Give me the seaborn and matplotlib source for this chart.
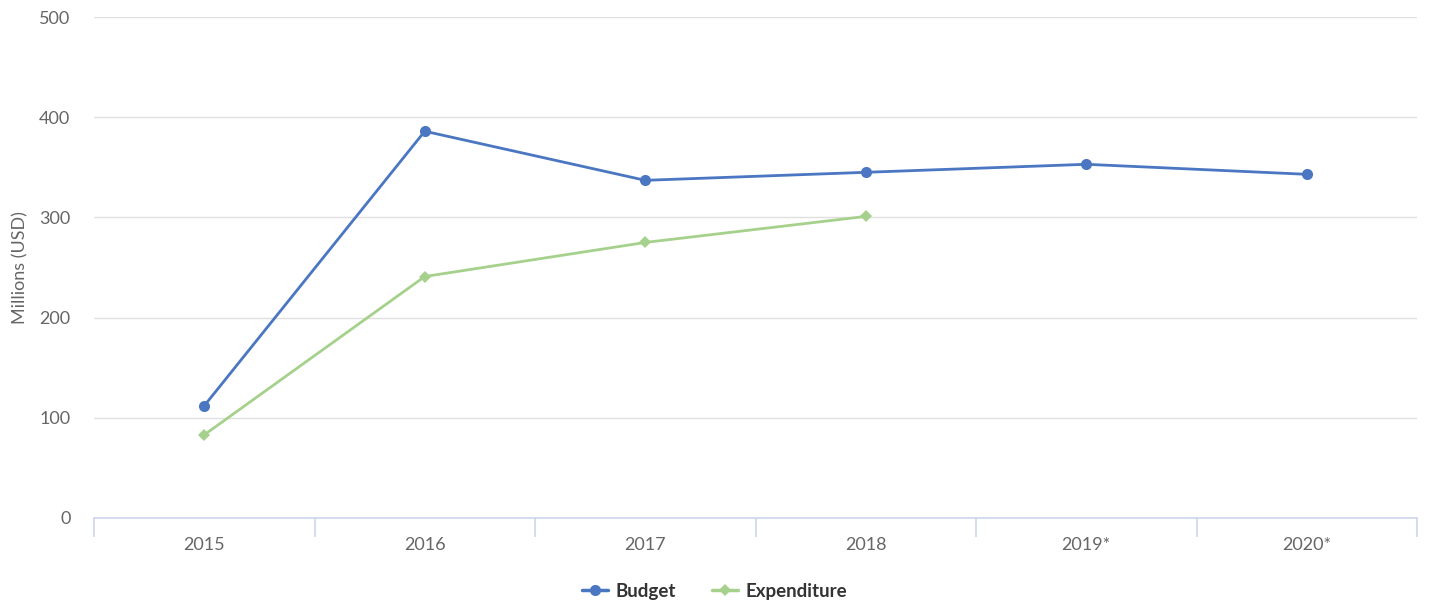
import numpy as np
import pandas as pd
import matplotlib
matplotlib.use("Agg")
import matplotlib.pyplot as plt
import seaborn as sns

years = ["2015", "2016", "2017", "2018", "2019*", "2020*"]
budget = [112, 386, 337, 345, 353, 343]
expenditure = [83, 241, 275, 301, np.nan, np.nan]

sns.set_style("white")
plt.rcParams["font.family"] = ["Lato", "DejaVu Sans"]

data = pd.DataFrame({
    "pos": list(range(len(years))) * 2,
    "value": budget + expenditure,
    "series": ["Budget"] * len(years) + ["Expenditure"] * len(years),
})

fig = plt.figure(figsize=(14.29, 6.03), dpi=100)
ax = fig.add_axes([94 / 1429, 1 - 518 / 603, (1417 - 94) / 1429, (518 - 17) / 603])

sns.lineplot(data=data, x="pos", y="value", hue="series", style="series",
             palette={"Budget": "#4a76c2", "Expenditure": "#a6d18c"},
             markers={"Budget": "o", "Expenditure": "D"},
             dashes=False, linewidth=2.0, markersize=8, markeredgewidth=0,
             legend=False, ax=ax)
# smaller diamonds
for ln in ax.lines:
    if ln.get_marker() == "D":
        ln.set_markersize(6)

ax.set_xlim(-0.5, len(years) - 0.5)
ax.set_ylim(0, 500)
ax.set_yticks([0, 100, 200, 300, 400, 500])
ax.set_xticks(range(len(years)))
ax.set_xticklabels(years)
ax.set_xticks(np.arange(-0.5, len(years)), minor=True)
ax.tick_params(axis="x", which="major", bottom=False, length=0, pad=14, labelsize=13, labelcolor="#666666")
ax.tick_params(axis="x", which="minor", bottom=True, length=14, color="#ccd6eb", width=1.2, direction="out")
ax.tick_params(axis="y", length=0, pad=17, labelsize=13, labelcolor="#666666")
ax.yaxis.grid(True, color="#e0e0e0", linewidth=1)
ax.set_axisbelow(True)
for s in ["top", "right", "left"]:
    ax.spines[s].set_visible(False)
ax.spines["bottom"].set_color("#ccd6eb")
ax.spines["bottom"].set_linewidth(1.2)

ax.set_xlabel("")
ax.set_ylabel("Millions (USD)", fontsize=13, color="#666666", labelpad=8)

handles = [
    plt.Line2D([], [], color="#4a76c2", marker="o", linewidth=2.5, markersize=8, markeredgewidth=0),
    plt.Line2D([], [], color="#a6d18c", marker="D", linewidth=2.5, markersize=6, markeredgewidth=0),
]
leg = fig.legend(handles, ["Budget", "Expenditure"], loc="center", bbox_to_anchor=(0.5, 1 - 591 / 603),
                 ncol=2, frameon=False, handlelength=1.4, handletextpad=0.4, columnspacing=1.9,
                 prop={"weight": "bold", "size": 13.5})
for t in leg.get_texts():
    t.set_color("#333333")

fig.savefig("out.png", dpi=100)
